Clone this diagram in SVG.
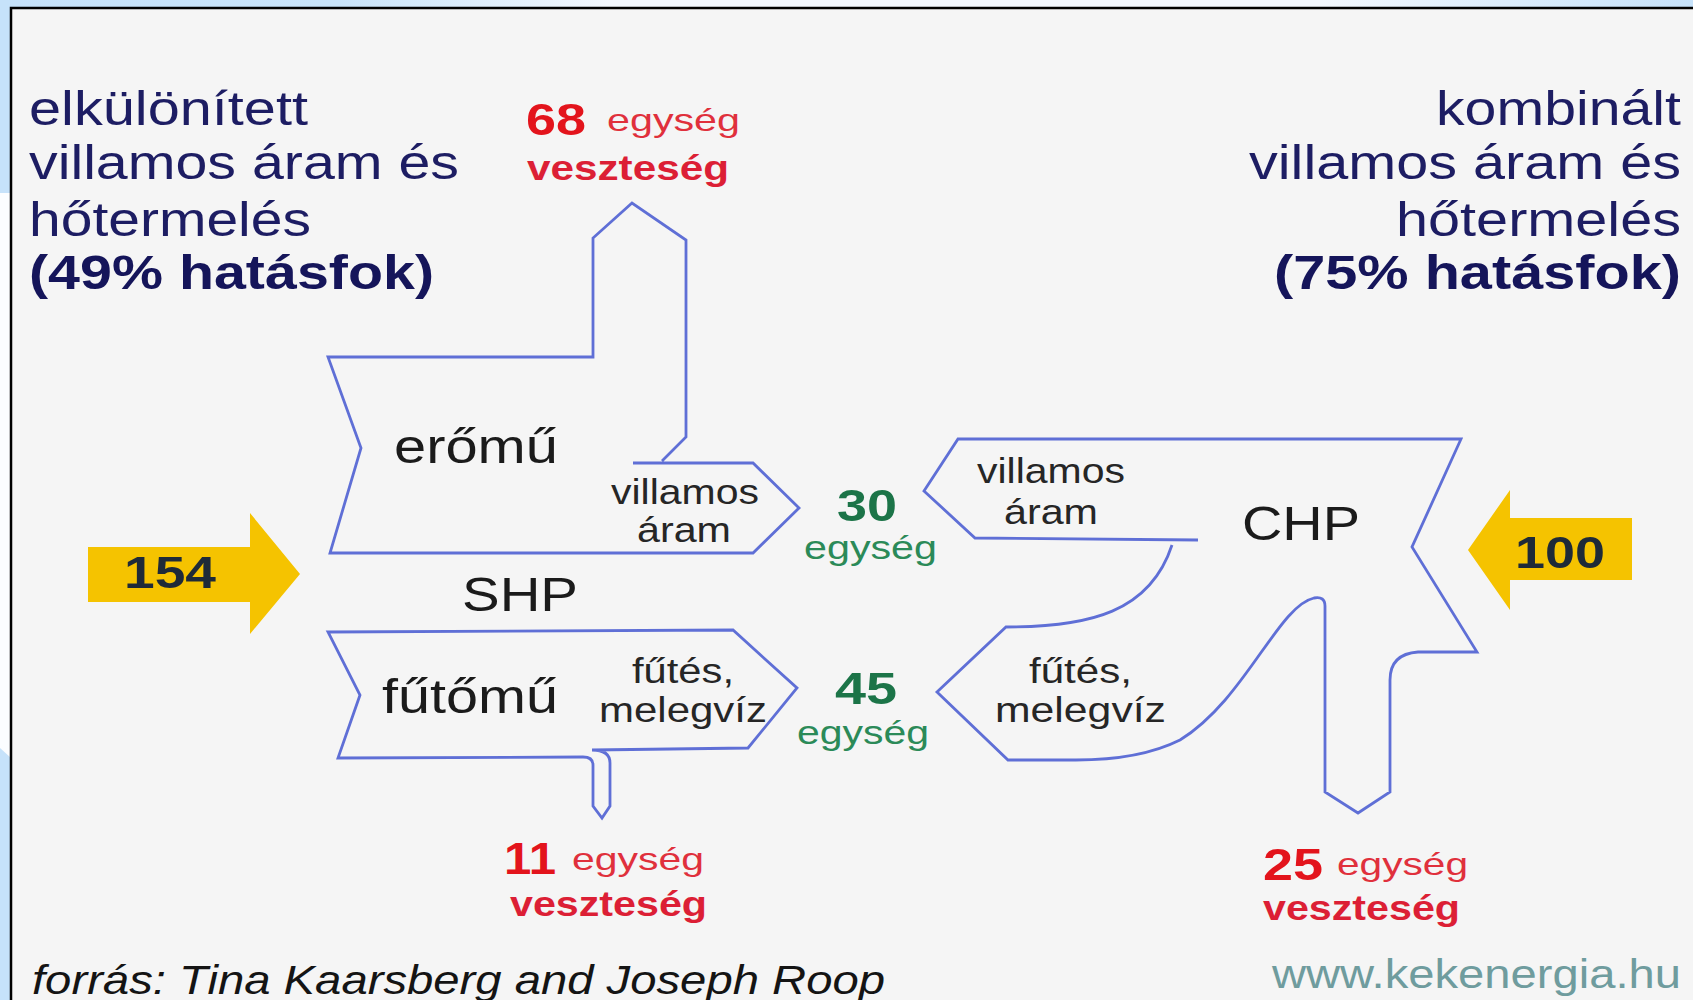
<svg xmlns="http://www.w3.org/2000/svg" width="1693" height="1000" viewBox="0 0 1693 1000">
  <defs>
    <linearGradient id="topband" x1="0" y1="0" x2="1693" y2="0" gradientUnits="userSpaceOnUse">
      <stop offset="0" stop-color="#c6e2fa"/>
      <stop offset="0.2" stop-color="#c9e4fa"/>
      <stop offset="0.36" stop-color="#f3f8fe"/>
      <stop offset="0.78" stop-color="#f3f8fe"/>
      <stop offset="1" stop-color="#c6e2fa"/>
    </linearGradient>
    <style>
      .flow{fill:none;stroke:#5f6fd6;stroke-width:2.8;stroke-linejoin:miter}
      text{font-family:"Liberation Sans",Arial,sans-serif}
      .title{font-size:49px;fill:#1d1d63}
      .title-b{font-size:49px;font-weight:bold;fill:#15155a}
      .lbl{font-size:48px;fill:#1b1b1b}
      .sub{font-size:35px;fill:#262626}
      .loss-n{font-size:44px;font-weight:bold;fill:#e3141c}
      .loss-u{font-size:32px;fill:#e0303c}
      .loss-w{font-size:35px;font-weight:bold;fill:#dc1f35}
      .out-n{font-size:44px;font-weight:bold;fill:#1c7448}
      .out-u{font-size:34px;fill:#2b8a58}
      .fuel{fill:#f5c300}
      .fuel-n{font-size:44px;font-weight:bold;fill:#1e2a38}
      .src{font-size:40px;font-style:italic;fill:#141414}
      .url{font-size:40px;fill:#6f9c9e}
    </style>
  </defs>

  <!-- slide background and framed panel -->
  <rect width="1693" height="1000" fill="#fbfdff"/>
  <rect x="0" y="0" width="1693" height="8" fill="url(#topband)"/>
  <rect x="0" y="0" width="11" height="193" fill="#c6e2fa"/>
  <path d="M0,748 L11,758 V1000 H0 Z" fill="#c6e2fa"/>
  <rect x="11" y="8" width="1682" height="992" fill="#f5f5f5"/>
  <path d="M11,1000 V8 H1693" fill="none" stroke="#000" stroke-width="2.5"/>

  <!-- headings -->
  <g id="title-separate">
    <text class="title" x="29" y="125" textLength="279" lengthAdjust="spacingAndGlyphs">elkülönített</text>
    <text class="title" x="29" y="179" textLength="430" lengthAdjust="spacingAndGlyphs">villamos áram és</text>
    <text class="title" x="29" y="236" textLength="282" lengthAdjust="spacingAndGlyphs">hőtermelés</text>
    <text class="title-b" x="29" y="289" textLength="405" lengthAdjust="spacingAndGlyphs">(49% hatásfok)</text>
  </g>
  <g id="title-combined">
    <text class="title" x="1436" y="125" textLength="245" lengthAdjust="spacingAndGlyphs">kombinált</text>
    <text class="title" x="1249" y="179" textLength="432" lengthAdjust="spacingAndGlyphs">villamos áram és</text>
    <text class="title" x="1396" y="236" textLength="285" lengthAdjust="spacingAndGlyphs">hőtermelés</text>
    <text class="title-b" x="1274" y="289" textLength="407" lengthAdjust="spacingAndGlyphs">(75% hatásfok)</text>
  </g>

  <!-- separate production: power plant -->
  <g id="eromu">
    <path class="flow" d="M633,463 H753 L799,508 L753,553 H330 L361,448 L328,357 H593 V238 L632,203 L686,240 V437 L662,461"/>
    <text class="lbl" x="394" y="463" textLength="164" lengthAdjust="spacingAndGlyphs">erőmű</text>
    <text class="sub" x="611" y="504" textLength="148" lengthAdjust="spacingAndGlyphs">villamos</text>
    <text class="sub" x="637" y="542" textLength="94" lengthAdjust="spacingAndGlyphs">áram</text>
  </g>

  <g id="shp-label">
    <text class="lbl" x="462" y="611" textLength="116" lengthAdjust="spacingAndGlyphs">SHP</text>
  </g>

  <!-- separate production: heating plant -->
  <g id="futomu">
    <path class="flow" d="M328,632 L733,630 L797,688 L748,748 L592,750 Q610,750 610,763 V806 L602,818 L593,806 V765 Q593,757 583,757 L338,758 L360,695 Z"/>
    <text class="lbl" x="382" y="713" textLength="176" lengthAdjust="spacingAndGlyphs">fűtőmű</text>
    <text class="sub" x="632" y="683" textLength="102" lengthAdjust="spacingAndGlyphs">fűtés,</text>
    <text class="sub" x="599" y="722" textLength="168" lengthAdjust="spacingAndGlyphs">melegvíz</text>
  </g>

  <!-- combined heat and power -->
  <g id="chp">
    <path class="flow" d="M1198,540 L975,538 L924,491 L958,439 H1461 L1412,547 L1477,652 H1418 Q1390,654 1390,680 V792 L1358,813 L1325,792 V606 Q1325,596 1314,598 C1278,606 1245,700 1180,740 Q1140,760 1076,760 H1008 L937,692 L1006,627 C1090,627 1150,612 1172,545"/>
    <text class="sub" x="977" y="483" textLength="148" lengthAdjust="spacingAndGlyphs">villamos</text>
    <text class="sub" x="1004" y="524" textLength="94" lengthAdjust="spacingAndGlyphs">áram</text>
    <text class="lbl" x="1242" y="540" textLength="118" lengthAdjust="spacingAndGlyphs">CHP</text>
    <text class="sub" x="1029" y="683" textLength="103" lengthAdjust="spacingAndGlyphs">fűtés,</text>
    <text class="sub" x="995" y="722" textLength="171" lengthAdjust="spacingAndGlyphs">melegvíz</text>
  </g>

  <!-- useful outputs -->
  <g id="out-power">
    <text class="out-n" x="837" y="521" textLength="60" lengthAdjust="spacingAndGlyphs">30</text>
    <text class="out-u" x="804" y="559" textLength="133" lengthAdjust="spacingAndGlyphs">egység</text>
  </g>
  <g id="out-heat">
    <text class="out-n" x="835" y="704" textLength="62" lengthAdjust="spacingAndGlyphs">45</text>
    <text class="out-u" x="797" y="744" textLength="132" lengthAdjust="spacingAndGlyphs">egység</text>
  </g>

  <!-- losses -->
  <g id="loss-68">
    <text class="loss-n" x="526" y="135" textLength="60" lengthAdjust="spacingAndGlyphs">68</text>
    <text class="loss-u" x="607" y="131" textLength="133" lengthAdjust="spacingAndGlyphs">egység</text>
    <text class="loss-w" x="527" y="180" textLength="202" lengthAdjust="spacingAndGlyphs">veszteség</text>
  </g>
  <g id="loss-11">
    <text class="loss-n" x="504" y="874" textLength="52" lengthAdjust="spacingAndGlyphs">11</text>
    <text class="loss-u" x="572" y="870" textLength="132" lengthAdjust="spacingAndGlyphs">egység</text>
    <text class="loss-w" x="510" y="916" textLength="197" lengthAdjust="spacingAndGlyphs">veszteség</text>
  </g>
  <g id="loss-25">
    <text class="loss-n" x="1263" y="880" textLength="60" lengthAdjust="spacingAndGlyphs">25</text>
    <text class="loss-u" x="1337" y="875" textLength="131" lengthAdjust="spacingAndGlyphs">egység</text>
    <text class="loss-w" x="1263" y="920" textLength="197" lengthAdjust="spacingAndGlyphs">veszteség</text>
  </g>

  <!-- fuel inputs -->
  <g id="connectors">
    <g id="fuel-154">
      <path class="fuel" d="M88,547 H250 V513 L300,574 L250,634 V602 H88 Z"/>
      <text class="fuel-n" x="124" y="588" textLength="92" lengthAdjust="spacingAndGlyphs">154</text>
    </g>
    <g id="fuel-100">
      <path class="fuel" d="M1632,518 H1510 V490 L1468,550 L1510,610 V580 H1632 Z"/>
      <text class="fuel-n" x="1515" y="568" textLength="90" lengthAdjust="spacingAndGlyphs">100</text>
    </g>
  </g>

  <!-- footer -->
  <g id="footer">
    <text class="src" x="32" y="994" textLength="853" lengthAdjust="spacingAndGlyphs">forrás: Tina Kaarsberg and Joseph Roop</text>
    <text class="url" x="1272" y="988" textLength="409" lengthAdjust="spacingAndGlyphs">www.kekenergia.hu</text>
  </g>
</svg>
